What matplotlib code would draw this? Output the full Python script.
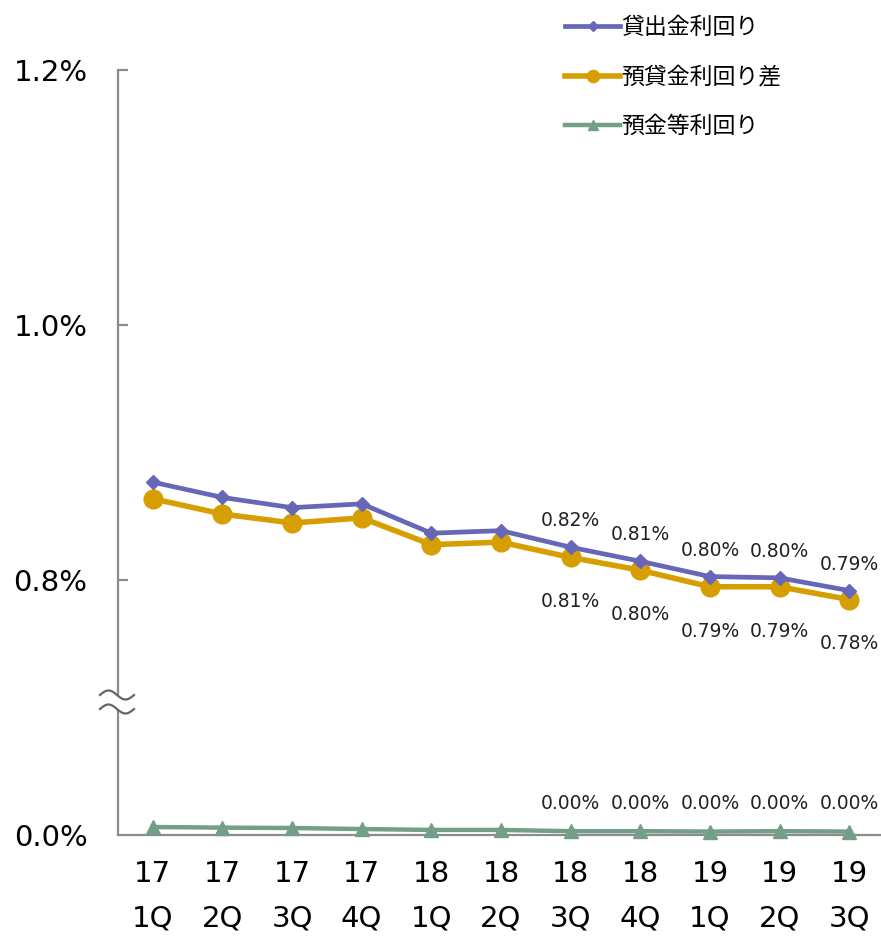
import numpy as np
import matplotlib
matplotlib.use("Agg")
import matplotlib.pyplot as plt
from matplotlib.lines import Line2D
from matplotlib.patches import Polygon

plt.rcParams["font.family"] = ["DejaVu Sans", "Noto Sans CJK JP"]

years = ["17", "17", "17", "17", "18", "18", "18", "18", "19", "19", "19"]
quarters = ["1Q", "2Q", "3Q", "4Q", "1Q", "2Q", "3Q", "4Q", "1Q", "2Q", "3Q"]

loan_yield = [0.877, 0.865, 0.857, 0.860, 0.837, 0.839, 0.826, 0.815, 0.803, 0.802, 0.792]
spread = [0.864, 0.852, 0.845, 0.849, 0.828, 0.830, 0.818, 0.808, 0.795, 0.795, 0.785]
deposit_yield = [0.0063, 0.0058, 0.0055, 0.0047, 0.0040, 0.0040, 0.0030, 0.0030, 0.0027, 0.0030, 0.0027]

loan_labels = ["0.82%", "0.81%", "0.80%", "0.80%", "0.79%"]
spread_labels = ["0.81%", "0.80%", "0.79%", "0.79%", "0.78%"]
deposit_labels = ["0.00%", "0.00%", "0.00%", "0.00%", "0.00%"]
label_start = 6

series_names = ["貸出金利回り", "預貸金利回り差", "預金等利回り"]
colors = {"loan": "#6767B8", "spread": "#D69E00", "deposit": "#739F88"}

W, H = 881, 942
fig = plt.figure(figsize=(W / 100, H / 100), dpi=100, facecolor="white")


def fx(px):
    return px / W


def fy(py):
    return (H - py) / H


left, right = fx(118), fx(884)
ax_top = fig.add_axes([left, fy(708), right - left, fy(70) - fy(708)])
ax_bot = fig.add_axes([left, fy(835), right - left, fy(708) - fy(835)])

x = np.arange(len(years))
spine_color = "#8C8C8C"

for ax in (ax_top, ax_bot):
    ax.set_xlim(-0.5, len(years) - 0.5)
    ax.patch.set_alpha(0)
    ax.spines["right"].set_visible(False)
    ax.spines["top"].set_visible(False)
    ax.spines["left"].set_color(spine_color)
    ax.spines["left"].set_linewidth(1.6)

ax_top.spines["bottom"].set_visible(False)
ax_bot.spines["bottom"].set_color(spine_color)
ax_bot.spines["bottom"].set_linewidth(1.6)

ax_top.set_ylim(0.7, 1.2)
ax_top.set_yticks([0.8, 1.0, 1.2])
ax_top.set_yticklabels(["0.8%", "1.0%", "1.2%"])
ax_top.tick_params(axis="y", direction="in", length=7, width=1.6, color=spine_color,
                   labelsize=21, pad=22)
ax_top.tick_params(axis="x", bottom=False, labelbottom=False)

ax_bot.set_ylim(0, 0.1)
ax_bot.set_yticks([0.0])
ax_bot.set_yticklabels(["0.0%"])
ax_bot.tick_params(axis="y", length=0, labelsize=21, pad=22)
ax_bot.set_xticks(x)
ax_bot.set_xticklabels([f"{y}\n{q}" for y, q in zip(years, quarters)], linespacing=1.75)
ax_bot.tick_params(axis="x", length=0, labelsize=21, pad=18)

h1, = ax_top.plot(x, loan_yield, color=colors["loan"], lw=3.4, marker="D", ms=7.5,
                  zorder=4, label=series_names[0])
h2, = ax_top.plot(x, spread, color=colors["spread"], lw=4, marker="o", ms=13.5,
                  zorder=3, label=series_names[1])
h3, = ax_bot.plot(x, deposit_yield, color=colors["deposit"], lw=3.2, marker="^", ms=10.5,
                  zorder=3, clip_on=False, label=series_names[2])

for i, t in enumerate(loan_labels):
    k = label_start + i
    ax_top.annotate(t, (x[k], loan_yield[k]), xytext=(0, 19), textcoords="offset points",
                    ha="center", va="center", fontsize=13.5, color="#222222")
for i, t in enumerate(spread_labels):
    k = label_start + i
    ax_top.annotate(t, (x[k], spread[k]), xytext=(0, -32), textcoords="offset points",
                    ha="center", va="center", fontsize=13.5, color="#222222")
for i, t in enumerate(deposit_labels):
    k = label_start + i
    ax_bot.annotate(t, (x[k], deposit_yield[k]), xytext=(0, 20), textcoords="offset points",
                    ha="center", va="center", fontsize=13.5, color="#222222")

# axis break mark
t = np.linspace(0, 1, 60)
wx = 100 + 34 * t
w1 = 695 - 4.5 * np.sin(2 * np.pi * t)
w2 = 709 - 4.5 * np.sin(2 * np.pi * t)
poly = np.column_stack([np.concatenate([fx(wx), fx(wx[::-1])]),
                        np.concatenate([fy(w1), fy(w2[::-1])])])
fig.add_artist(Polygon(poly, closed=True, facecolor="white", edgecolor="none",
                       transform=fig.transFigure, zorder=5))
for w in (w1, w2):
    fig.add_artist(Line2D(fx(wx), fy(w), color="#666666", lw=1.6,
                          transform=fig.transFigure, zorder=6))

leg = fig.legend(handles=[h1, h2, h3], loc="upper left", bbox_to_anchor=(fx(554), fy(5)),
                 frameon=False, fontsize=16.5, handlelength=2.4, handletextpad=0.05,
                 labelspacing=1.15, borderpad=0, markerscale=0.65)

fig.savefig("out.png", dpi=100, facecolor="white")
